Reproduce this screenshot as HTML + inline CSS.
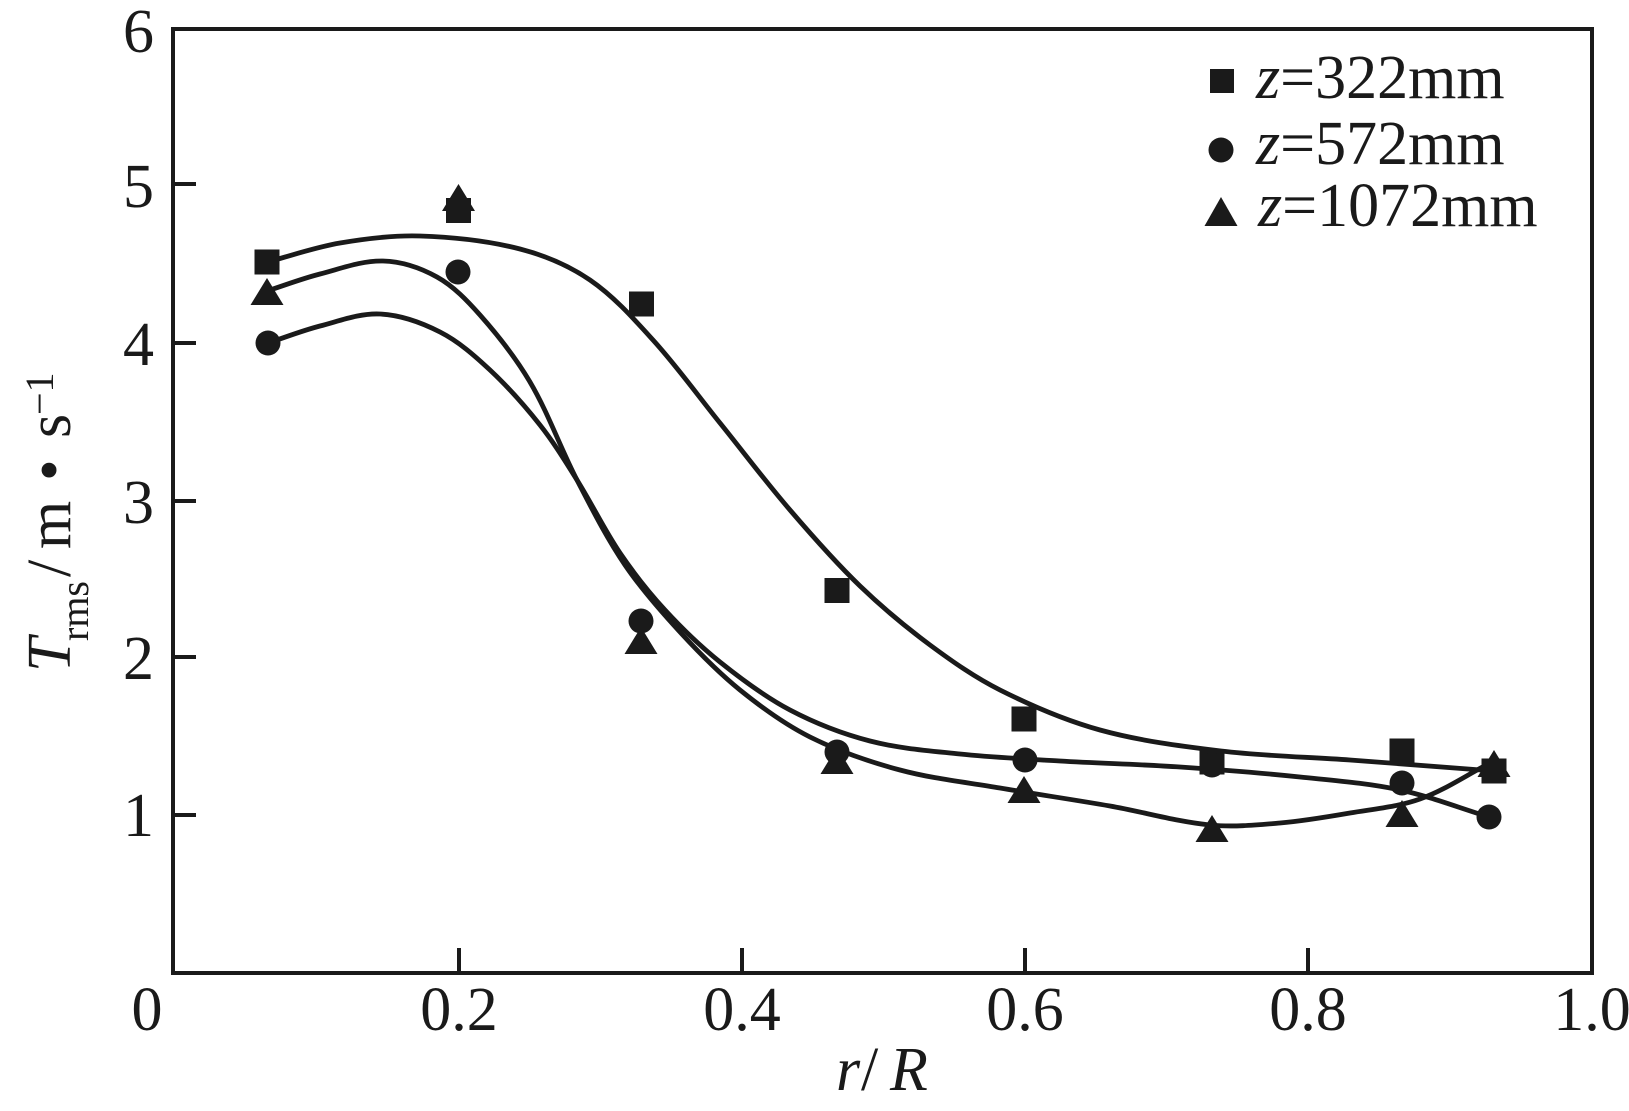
<!DOCTYPE html>
<html><head><meta charset="utf-8"><style>
html,body{margin:0;padding:0;background:#fff;}
svg{display:block;}
text{font-family:"Liberation Serif","Times New Roman","DejaVu Serif",serif;fill:#1a1a1a;}
</style></head><body>
<svg id="s" width="1629" height="1111" viewBox="0 0 1629 1111" xmlns="http://www.w3.org/2000/svg">
<rect width="1629" height="1111" fill="#fff"/>
<g stroke="#1a1a1a" stroke-width="4" fill="none">
<rect x="173" y="29" width="1419" height="944"/>
<line x1="459" y1="973" x2="459" y2="948"/>
<line x1="742" y1="973" x2="742" y2="948"/>
<line x1="1025" y1="973" x2="1025" y2="948"/>
<line x1="1308" y1="973" x2="1308" y2="948"/>
<line x1="173" y1="184" x2="196" y2="184"/>
<line x1="173" y1="343" x2="196" y2="343"/>
<line x1="173" y1="501" x2="196" y2="501"/>
<line x1="173" y1="657" x2="196" y2="657"/>
<line x1="173" y1="815" x2="196" y2="815"/>
</g>
<g font-size="62">
<text x="147" y="1030" text-anchor="middle">0</text>
<text x="459" y="1030" text-anchor="middle">0.2</text>
<text x="742" y="1030" text-anchor="middle">0.4</text>
<text x="1025" y="1030" text-anchor="middle">0.6</text>
<text x="1308" y="1030" text-anchor="middle">0.8</text>
<text x="1592" y="1030" text-anchor="middle">1.0</text>
<text x="154" y="52" text-anchor="end">6</text>
<text x="154" y="207" text-anchor="end">5</text>
<text x="154" y="365" text-anchor="end">4</text>
<text x="154" y="523" text-anchor="end">3</text>
<text x="154" y="679" text-anchor="end">2</text>
<text x="154" y="836" text-anchor="end">1</text>
</g>
<g font-size="62">
<text x="836" y="1090" font-style="italic">r</text>
<text x="861" y="1090">/</text>
<text x="890" y="1090" font-style="italic">R</text>
</g>
<g transform="translate(70,672) rotate(-90)">
<text x="0" y="0" font-size="62" font-style="italic">T</text>
<text x="31" y="18" font-size="40">rms</text>
<text x="95" y="0" font-size="62">/</text>
<text x="123" y="0" font-size="62">m</text>
<text x="191" y="0" font-size="62">•</text>
<text x="234" y="0" font-size="62">s</text>
<text x="257" y="-17" font-size="40">−1</text>
</g>
<g id="curves" stroke="#1a1a1a" stroke-width="4.8" fill="none" stroke-linejoin="round" stroke-linecap="round"></g>
<g fill="#1a1a1a" id="markers"></g>
<g font-size="62">
<rect x="1210" y="69" width="24" height="24" fill="#1a1a1a"/>
<circle cx="1221" cy="150" r="12.5" fill="#1a1a1a"/>
<polygon points="1221,197 1204.5,226 1237.5,226" fill="#1a1a1a"/>
<text x="1256" y="98"><tspan font-style="italic">z</tspan>=322mm</text>
<text x="1256" y="164"><tspan font-style="italic">z</tspan>=572mm</text>
<text x="1258" y="226"><tspan font-style="italic">z</tspan>=1072mm</text>
</g>
</svg>
<script>
(function(){
var NS="http://www.w3.org/2000/svg";
function len(a,b){return Math.sqrt((a[0]-b[0])*(a[0]-b[0])+(a[1]-b[1])*(a[1]-b[1]));}
function tang(p,i){
  var a=p[i-1]||p[i],b=p[i+1]||p[i];
  var dx=b[0]-a[0],dy=b[1]-a[1],L=Math.sqrt(dx*dx+dy*dy)||1;
  return [dx/L,dy/L];
}
function cr(p){
  var d="M"+p[0][0]+","+p[0][1];
  for(var i=0;i<p.length-1;i++){
    var p1=p[i],p2=p[i+1],s=len(p1,p2)/3;
    var t1=tang(p,i),t2=tang(p,i+1);
    var c1x=p1[0]+t1[0]*s,c1y=p1[1]+t1[1]*s;
    var c2x=p2[0]-t2[0]*s,c2y=p2[1]-t2[1]*s;
    d+=" C"+c1x.toFixed(1)+","+c1y.toFixed(1)+" "+c2x.toFixed(1)+","+c2y.toFixed(1)+" "+p2[0]+","+p2[1];
  }
  return d;
}
var sq=[[267,262],[340,243],[420,236],[520,249],[590,280],[653,340],[720,423],[790,510],[860,586],[930,645],[1000,690],[1100,730],[1221,751],[1350,760],[1494,771]];
var ci=[[268,343],[320,326],[380,314],[440,332],[490,370],[540,425],[577,480],[620,553],[665,610],[720,662],[790,710],[870,741],[960,754],[1060,761],[1180,767],[1300,777],[1400,790],[1489,817]];
var tr=[[267,291],[320,274],[383,261],[437,277],[480,315],[530,382],[577,480],[625,565],[680,632],[740,690],[810,737],[900,770],[1000,788],[1110,806],[1210,825],[1280,823],[1350,813],[1420,799],[1490,763]];
var g=document.getElementById("curves");
[sq,ci,tr].forEach(function(p){var e=document.createElementNS(NS,"path");e.setAttribute("d",cr(p));g.appendChild(e);});
var m=document.getElementById("markers");
function S(x,y){var e=document.createElementNS(NS,"rect");e.setAttribute("x",x-12.5);e.setAttribute("y",y-12.5);e.setAttribute("width",25);e.setAttribute("height",25);m.appendChild(e);}
function C(x,y){var e=document.createElementNS(NS,"circle");e.setAttribute("cx",x);e.setAttribute("cy",y);e.setAttribute("r",12.5);m.appendChild(e);}
function T(x,top){var e=document.createElementNS(NS,"polygon");e.setAttribute("points",x+","+top+" "+(x-16.5)+","+(top+27)+" "+(x+16.5)+","+(top+27));m.appendChild(e);}
S(267,262);S(458.5,210.5);S(641.5,304);S(837,590.5);S(1024,719);S(1212,762);S(1402,751);S(1494,771);
C(268,343);C(458,272);C(641,621);C(837,752);C(1025,760);C(1212,765);C(1402,783);C(1489,817);
T(267,278);T(458.5,184);T(641,627);T(837,747);T(1024,776);T(1212,815);T(1402,800);T(1494,750);
})();
</script>
</body></html>
